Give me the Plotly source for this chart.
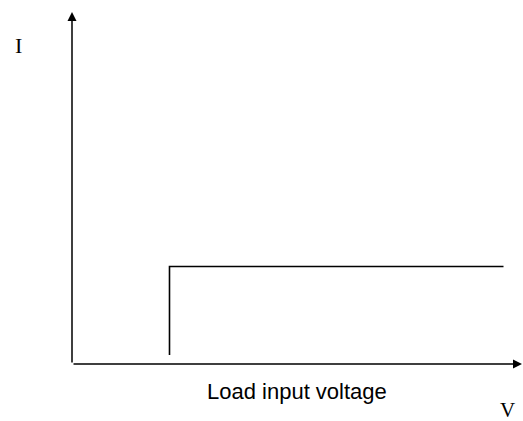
import plotly.graph_objects as go

# Step characteristic (arbitrary units): voltage vs current
step_v = [1.95, 1.95, 8.63]
step_i = [0.18, 1.95, 1.95]

# Axis extents (arrow tips)
axis_v_max = 9.0
axis_i_max = 7.04

x_label = "Load input voltage"
v_symbol = "V"
i_symbol = "I"

fig = go.Figure()
fig.add_trace(go.Scatter(
    x=step_v, y=step_i, mode="lines",
    line=dict(color="#000000", width=1.6),
    hoverinfo="skip", showlegend=False, cliponaxis=False,
))

# axes with arrowheads
fig.add_annotation(x=0, y=axis_i_max, ax=0, ay=0, xref="x", yref="y",
                   axref="x", ayref="y", showarrow=True, arrowhead=2,
                   arrowsize=1.2, arrowwidth=1.5, arrowcolor="#000000", text="")
fig.add_annotation(x=axis_v_max, y=0, ax=0, ay=0, xref="x", yref="y",
                   axref="x", ayref="y", showarrow=True, arrowhead=2,
                   arrowsize=1.2, arrowwidth=1.5, arrowcolor="#000000", text="")

serif = "Liberation Serif, Times New Roman, serif"
sans = "Liberation Sans, Arial, sans-serif"
fig.add_annotation(x=-0.119, y=0.906, xref="paper", yref="paper", text=i_symbol,
                   xanchor="center", yanchor="middle", borderpad=0,
                   showarrow=False, font=dict(family=serif, size=22, color="#000000"))
fig.add_annotation(x=0.968, y=-0.1307, xref="paper", yref="paper", text=v_symbol,
                   xanchor="center", yanchor="middle", borderpad=0,
                   showarrow=False, font=dict(family=serif, size=21, color="#000000"))
fig.add_annotation(x=0.5, y=-0.0795, xref="paper", yref="paper", text=x_label,
                   xanchor="center", yanchor="middle", borderpad=0,
                   showarrow=False, font=dict(family=sans, size=22, color="#000000"))

fig.update_layout(
    width=523, height=421,
    margin=dict(l=72, r=1, t=12, b=57),
    paper_bgcolor="#ffffff", plot_bgcolor="#ffffff",
    xaxis=dict(range=[0, axis_v_max], visible=False, fixedrange=True),
    yaxis=dict(range=[0, axis_i_max], visible=False, fixedrange=True),
)

fig.write_html(
    "out.html",
    config={"displayModeBar": False, "staticPlot": True},
    post_script="document.body.style.margin='0';document.body.style.overflow='hidden';",
)
